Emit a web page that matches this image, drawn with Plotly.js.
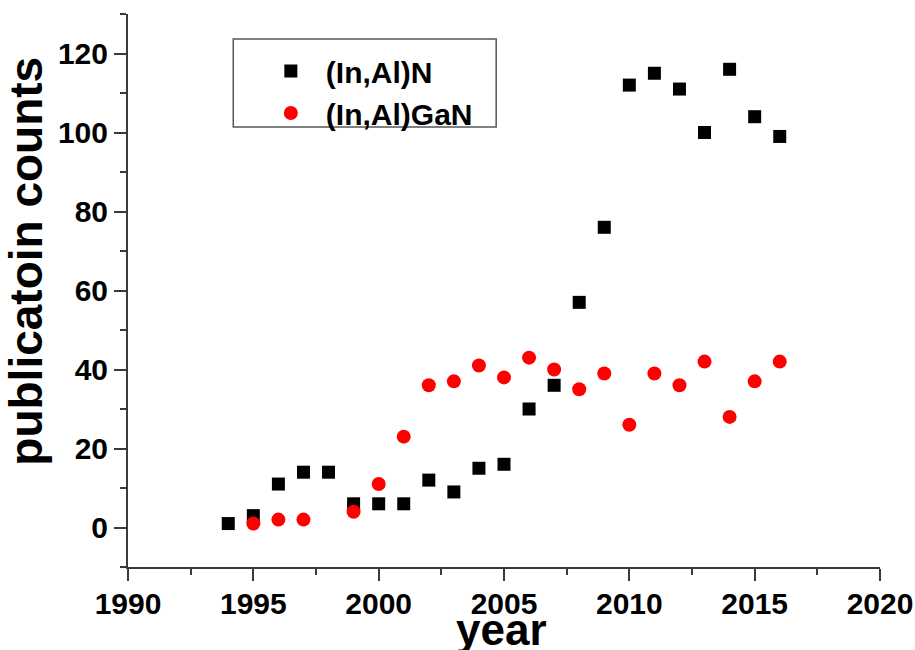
<!DOCTYPE html>
<html>
<head>
<meta charset="utf-8">
<script src="https://cdn.plot.ly/plotly-3.0.1.min.js"></script>
<style>html,body{margin:0;padding:0;background:#fff;}#chart{width:915px;height:650px;}</style>
</head>
<body>
<div id="chart"></div>
<script>
const yearsInAlN = [1994,1995,1996,1997,1998,1999,2000,2001,2002,2003,2004,2005,2006,2007,2008,2009,2010,2011,2012,2013,2014,2015,2016];
const countsInAlN = [1,3,11,14,14,6,6,6,12,9,15,16,30,36,57,76,112,115,111,100,116,104,99];
const yearsInAlGaN = [1995,1996,1997,1999,2000,2001,2002,2003,2004,2005,2006,2007,2008,2009,2010,2011,2012,2013,2014,2015,2016];
const countsInAlGaN = [1,2,2,4,11,23,36,37,41,38,43,40,35,39,26,39,36,42,28,37,42];
const seriesNames = ['(In,Al)N', '(In,Al)GaN'];
const xTitle = 'year';
const yTitle = 'publicatoin counts';

const FONT = 'Liberation Sans, Arial, sans-serif';
const axisColor = '#3a3a3a';

const traces = [
  {x: yearsInAlN, y: countsInAlN, name: seriesNames[0], type: 'scatter', mode: 'markers',
   marker: {symbol: 'square', size: 13, color: '#000000'}},
  {x: yearsInAlGaN, y: countsInAlGaN, name: seriesNames[1], type: 'scatter', mode: 'markers',
   marker: {symbol: 'circle', size: 14, color: '#ff0000'}}
];

const layout = {
  width: 915, height: 650,
  margin: {l: 128, r: 35, t: 14, b: 83},
  paper_bgcolor: '#ffffff', plot_bgcolor: '#ffffff',
  font: {family: FONT, color: '#000', weight: 'bold'},
  showlegend: true,
  legend: {x: 0.170, y: 0.944, xanchor: 'left', yanchor: 'top',
           font: {family: FONT, size: 30, color: '#000', weight: 'bold'},
           bgcolor: 'rgba(0,0,0,0)', borderwidth: 0, tracegroupgap: 0, itemwidth: 60},
  xaxis: {
    range: [1990, 2020], tick0: 1990, dtick: 5, showgrid: false, zeroline: false,
    showline: true, linecolor: axisColor, linewidth: 2,
    ticks: 'outside', ticklen: 12, tickwidth: 2, tickcolor: axisColor,
    ticklabelstandoff: -3,
    tickfont: {family: FONT, size: 30, color: '#000', weight: 'bold'},
    minor: {dtick: 2.5, tick0: 1990, ticks: 'outside', ticklen: 6, tickwidth: 2, tickcolor: axisColor, showgrid: false}
  },
  yaxis: {
    range: [-10, 130], tick0: 0, dtick: 20, showgrid: false, zeroline: false,
    showline: true, linecolor: axisColor, linewidth: 2,
    ticks: 'outside', ticklen: 12, tickwidth: 2, tickcolor: axisColor,
    tickfont: {family: FONT, size: 30, color: '#000', weight: 'bold'},
    minor: {dtick: 10, tick0: 0, ticks: 'outside', ticklen: 6, tickwidth: 2, tickcolor: axisColor, showgrid: false}
  },
  annotations: [
    {text: yTitle, textangle: -90, xref: 'paper', yref: 'paper', x: -0.135, y: 0.553,
     xanchor: 'center', yanchor: 'middle', showarrow: false,
     font: {family: FONT, size: 46, color: '#000', weight: 'bold'}},
    {text: xTitle, xref: 'paper', yref: 'paper', x: 0.497, y: -0.113,
     xanchor: 'center', yanchor: 'middle', showarrow: false,
     font: {family: FONT, size: 44, color: '#000', weight: 'bold'}}
  ],
  shapes: [
    {type: 'rect', xref: 'paper', yref: 'paper', x0: 0.14, x1: 0.4896, y0: 0.7958, y1: 0.9548,
     line: {color: '#555', width: 1.5}, fillcolor: 'rgba(0,0,0,0)'}
  ]
};

Plotly.newPlot('chart', traces, layout, {displayModeBar: false, staticPlot: true});
</script>
</body>
</html>
